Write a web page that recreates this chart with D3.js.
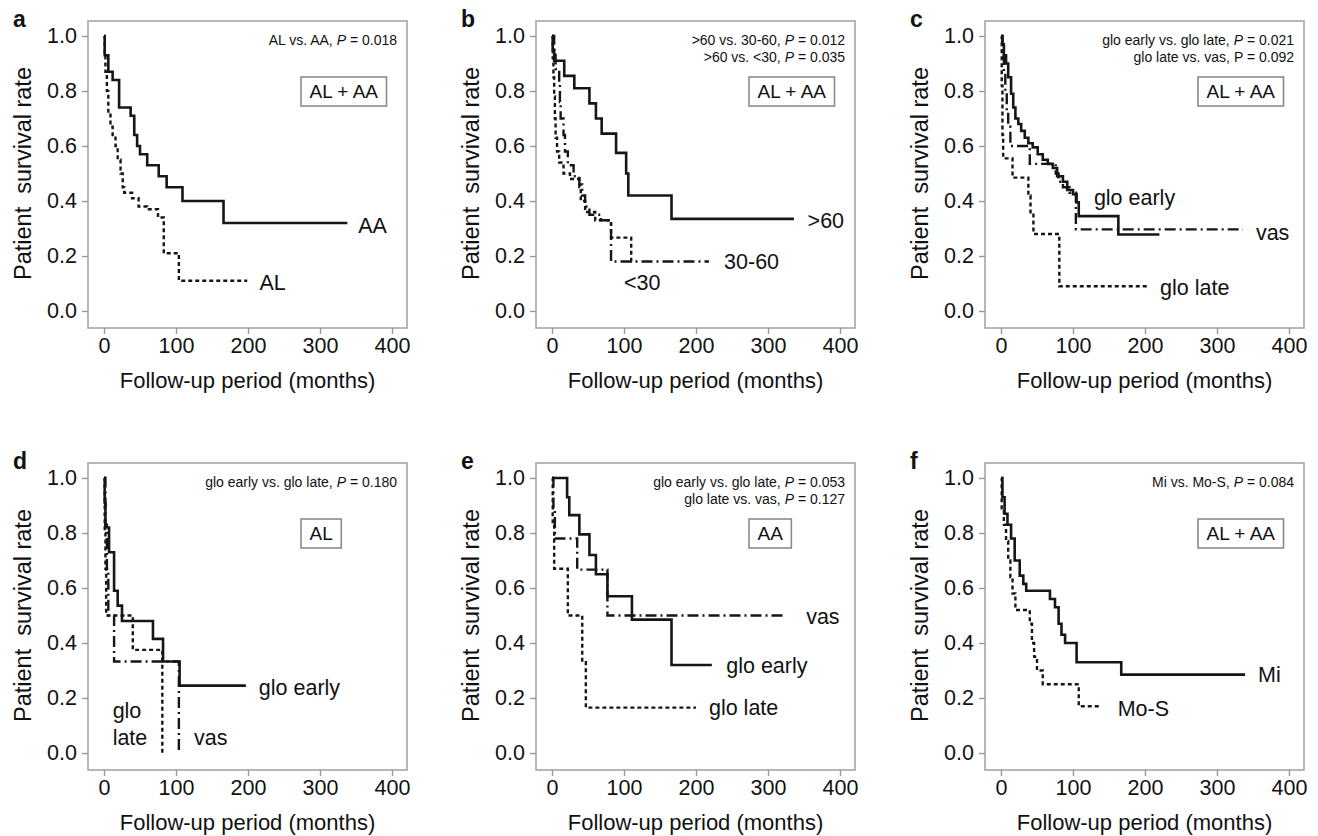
<!DOCTYPE html>
<html>
<head>
<meta charset="utf-8">
<title>Patient survival curves</title>
<style>
  body { margin: 0; background: #fff; }
  svg { display: block; }
  text { font-family: 'Liberation Sans', Arial, sans-serif; fill: #111; }
  .letter { font-weight: bold; font-size: 23px; }
  .tick { font-size: 21.5px; }
  .title { font-size: 22px; }
  .ytitle { font-size: 23.5px; }
  .test { font-size: 14px; }
  .group { font-size: 19px; }
  .clabel { font-size: 21.5px; }
</style>
</head>
<body>
<svg width="1318" height="836"></svg>
<script src="https://d3js.org/d3.v7.min.js"></script>
<script>

// axis ticks
const xTicks = [0, 100, 200, 300, 400];
const yTicks = [0, 0.2, 0.4, 0.6, 0.8, 1.0];

// each curve: [month, survival after step]
// panel a
const aAA = [[0,1],[1,0.93],[6,0.87],[12,0.84],[21,0.74],[37,0.71],[42,0.64],[46,0.60],[50,0.57],[60,0.53],[76,0.49],[87,0.45],[109,0.40],[166,0.32]];
const aAL = [[0,1],[1,0.93],[2,0.87],[4,0.80],[6,0.72],[9,0.67],[12,0.63],[16,0.60],[19,0.55],[23,0.50],[26,0.45],[28,0.43],[39,0.41],[48,0.38],[60,0.37],[75,0.34],[83,0.21],[104,0.11]];
// panel b
const bOver60 = [[0,1],[1,0.95],[3,0.91],[17,0.855],[31,0.81],[52,0.755],[61,0.70],[69,0.645],[89,0.575],[103,0.50],[106,0.42],[166,0.335]];
const b30to60 = [[0,1],[3,0.94],[5,0.88],[10,0.83],[11,0.76],[12,0.70],[16,0.64],[18,0.58],[22,0.53],[30,0.49],[38,0.46],[42,0.42],[46,0.38],[52,0.35],[68,0.33],[82,0.18]];
const bUnder30 = [[0,1],[1,0.92],[2,0.85],[3,0.78],[4,0.70],[5,0.63],[7,0.58],[10,0.54],[16,0.50],[25,0.48],[38,0.45],[40,0.40],[46,0.36],[60,0.33],[82,0.267],[110,0.18]];
// panel c
const cEarly = [[0,1],[2,0.97],[4,0.93],[7,0.90],[10,0.85],[14,0.79],[17,0.74],[20,0.70],[24,0.68],[28,0.655],[33,0.63],[38,0.61],[44,0.595],[51,0.57],[58,0.55],[65,0.535],[72,0.52],[78,0.49],[86,0.47],[92,0.44],[100,0.425],[105,0.395],[108,0.345],[163,0.278]];
const cVas = [[0,1],[2,0.93],[4,0.87],[6,0.80],[8,0.73],[10,0.67],[13,0.60],[40,0.535],[76,0.50],[80,0.47],[86,0.45],[95,0.43],[104,0.297]];
const cLate = [[0,1],[1,0.82],[2,0.64],[3,0.555],[16,0.485],[38,0.42],[41,0.35],[45,0.28],[81,0.09]];
// panel d
const dEarly = [[0,1],[1,0.91],[2,0.82],[7,0.73],[14,0.59],[19,0.536],[25,0.48],[68,0.415],[82,0.333],[105,0.245]];
const dLate = [[0,1],[1,0.80],[2,0.67],[3,0.50],[40,0.375],[81,0.0]];
const dVas = [[0,1],[2,0.83],[4,0.67],[6,0.50],[14,0.333],[104,0.0]];
// panel e
const eEarly = [[0,1],[21,0.93],[24,0.865],[38,0.795],[52,0.72],[61,0.65],[77,0.57],[111,0.485],[166,0.32]];
const eVas = [[0,1],[2,0.89],[4,0.78],[35,0.667],[77,0.50]];
const eLate = [[0,1],[1,0.83],[3,0.67],[22,0.50],[42,0.33],[47,0.165]];
// panel f
const fMi = [[0,1],[2,0.93],[5,0.87],[9,0.83],[14,0.78],[19,0.70],[26,0.645],[31,0.615],[35,0.59],[68,0.56],[75,0.53],[80,0.47],[84,0.43],[89,0.40],[105,0.33],[167,0.285]];
const fMoS = [[0,1],[1,0.89],[4,0.83],[7,0.77],[10,0.70],[13,0.64],[16,0.58],[20,0.52],[40,0.47],[43,0.40],[46,0.35],[50,0.30],[58,0.25],[108,0.17]];

const colLeft = [88, 536, 985],
      rowTop = [21, 463],
      boxW = 319,
      boxH = 307;

const dash = { solid: null, dot: '4,3', dashdot: '11,4,2,4' };

const panels = [
  { id: 'a', col: 0, row: 0, group: 'AL + AA',
    tests: [['AL vs. AA, ', 'P', ' = 0.018', true]],
    curves: [
      { data: aAA, end: 338, style: 'solid', labels: [['AA', 353, 0.31]] },
      { data: aAL, end: 199, style: 'dot', labels: [['AL', 216, 0.104]] }
    ] },
  { id: 'b', col: 1, row: 0, group: 'AL + AA',
    tests: [['>60 vs. 30-60, ', 'P', ' = 0.012', true], ['>60 vs. <30, ', 'P', ' = 0.035', true]],
    curves: [
      { data: bOver60, end: 336, style: 'solid', labels: [['>60', 355, 0.33]] },
      { data: b30to60, end: 218, style: 'dashdot', labels: [['30-60', 239, 0.18]] },
      { data: bUnder30, end: 113, style: 'dot', labels: [['<30', 100, 0.103]] }
    ] },
  { id: 'c', col: 2, row: 0, group: 'AL + AA',
    tests: [['glo early vs. glo late, ', 'P', ' = 0.021', true], ['glo late vs. vas, ', 'P', ' = 0.092', false]],
    curves: [
      { data: cVas, end: 336, style: 'dashdot', labels: [['vas', 354, 0.286]] },
      { data: cLate, end: 206, style: 'dot', labels: [['glo late', 221, 0.086]] },
      { data: cEarly, end: 220, style: 'solid', labels: [['glo early', 129, 0.413]] }
    ] },
  { id: 'd', col: 0, row: 1, group: 'AL',
    tests: [['glo early vs. glo late, ', 'P', ' = 0.180', true]],
    curves: [
      { data: dLate, end: 81, style: 'dot', labels: [['glo', 12, 0.154], ['late', 12, 0.058]] },
      { data: dVas, end: 104, style: 'dashdot', labels: [['vas', 125, 0.058]] },
      { data: dEarly, end: 197, style: 'solid', labels: [['glo early', 215, 0.24]] }
    ] },
  { id: 'e', col: 1, row: 1, group: 'AA',
    tests: [['glo early vs. glo late, ', 'P', ' = 0.053', true], ['glo late vs. vas, ', 'P', ' = 0.127', true]],
    curves: [
      { data: eVas, end: 322, style: 'dashdot', labels: [['vas', 353, 0.495]] },
      { data: eLate, end: 200, style: 'dot', labels: [['glo late', 218, 0.167]] },
      { data: eEarly, end: 222, style: 'solid', labels: [['glo early', 242, 0.32]] }
    ] },
  { id: 'f', col: 2, row: 1, group: 'AL + AA',
    tests: [['Mi vs. Mo-S, ', 'P', ' = 0.084', true]],
    curves: [
      { data: fMoS, end: 138, style: 'dot', labels: [['Mo-S', 162, 0.163]] },
      { data: fMi, end: 339, style: 'solid', labels: [['Mi', 357, 0.287]] }
    ] }
];

const svg = d3.select('svg');

panels.forEach(function(p) {
  const left = colLeft[p.col], top = rowTop[p.row];
  const right = left + boxW, bottom = top + boxH;

  const x = d3.scaleLinear().domain([0, 400]).range([left + 16, left + 304]);
  const y = d3.scaleLinear().domain([0, 1]).range([top + 290, top + 15]);

  const g = svg.append('g');

  // frame
  g.append('rect')
    .attr('x', left).attr('y', top)
    .attr('width', boxW).attr('height', boxH)
    .attr('fill', 'none')
    .attr('stroke', '#a6a6a6')
    .attr('stroke-width', 1.6);

  // y axis
  const yAxis = g.append('g').attr('transform', `translate(${left},0)`)
    .call(d3.axisLeft(y).tickValues(yTicks).tickFormat(d3.format('.1f')).tickSize(6).tickPadding(5));
  // x axis
  const xAxis = g.append('g').attr('transform', `translate(0,${bottom})`)
    .call(d3.axisBottom(x).tickValues(xTicks).tickSize(6).tickPadding(4));

  [yAxis, xAxis].forEach(function(ax) {
    ax.select('.domain').remove();
    ax.selectAll('line').attr('stroke', '#999').attr('stroke-width', 1.4);
    ax.selectAll('text').attr('class', 'tick').attr('fill', '#111')
      .style('font-family', "'Liberation Sans', Arial, sans-serif");
  });

  // axis titles
  g.append('text').attr('class', 'title')
    .attr('x', (left + right) / 2).attr('y', bottom + 60)
    .attr('text-anchor', 'middle')
    .text('Follow-up period (months)');
  g.append('text').attr('class', 'ytitle')
    .attr('transform', `translate(${left - 57},${(y(0) + y(1)) / 2}) rotate(-90)`)
    .attr('text-anchor', 'middle')
    .attr('xml:space', 'preserve')
    .text('Patient  survival rate');

  // panel letter
  g.append('text').attr('class', 'letter')
    .attr('x', left - 75).attr('y', top + 6)
    .text(p.id);

  // test annotations
  p.tests.forEach(function(t, i) {
    const tx = g.append('text').attr('class', 'test')
      .attr('x', right - 10).attr('y', top + 24 + i * 16.5)
      .attr('text-anchor', 'end')
      .attr('xml:space', 'preserve');
    tx.append('tspan').text(t[0]);
    tx.append('tspan').style('font-style', t[3] ? 'italic' : 'normal').text(t[1]);
    tx.append('tspan').text(t[2]);
  });

  // group box
  const gt = g.append('text').attr('class', 'group')
    .attr('y', top + 77)
    .attr('text-anchor', 'middle')
    .text(p.group);
  const tw = gt.node().getComputedTextLength();
  const bw = tw + 17;
  g.insert('rect', 'text.group')
    .attr('x', left + 213).attr('y', top + 56)
    .attr('width', bw).attr('height', 29)
    .attr('fill', '#fff')
    .attr('stroke', '#8a8a8a')
    .attr('stroke-width', 1.6);
  gt.attr('x', left + 213 + bw / 2);

  // survival curves
  const line = d3.line()
    .x(d => x(d[0]))
    .y(d => y(d[1]))
    .curve(d3.curveStepAfter);

  p.curves.forEach(function(c) {
    const pts = c.data.concat([[c.end, c.data[c.data.length - 1][1]]]);
    g.append('path')
      .attr('d', line(pts))
      .attr('fill', 'none')
      .attr('stroke', '#161616')
      .attr('stroke-width', c.style === 'solid' ? 2.6 : 2.4)
      .attr('stroke-dasharray', dash[c.style]);

    c.labels.forEach(function(l) {
      g.append('text').attr('class', 'clabel')
        .attr('x', x(l[1])).attr('y', y(l[2]))
        .attr('dy', '0.35em')
        .text(l[0]);
    });
  });
});

</script>
</body>
</html>
